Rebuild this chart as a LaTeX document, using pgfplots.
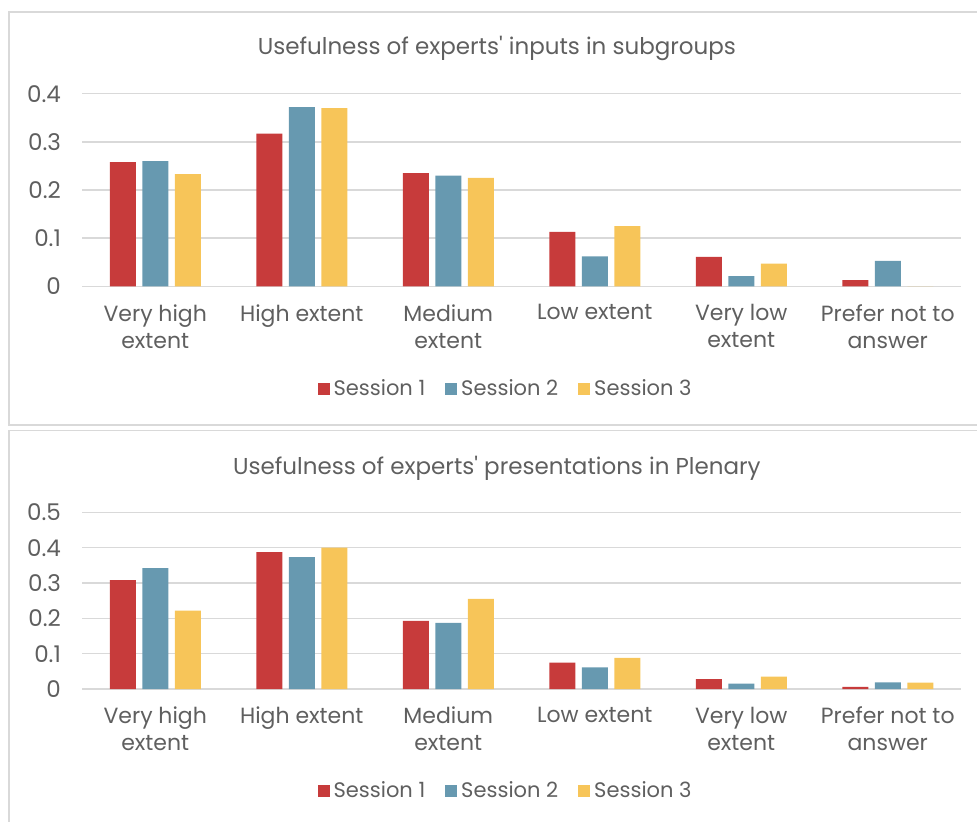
\documentclass[border=0pt]{standalone}
\usepackage{fontspec}
\setmainfont{Poppins}
\usepackage{pgfplots}
\pgfplotsset{compat=1.18}

\definecolor{sone}{RGB}{199,59,59}
\definecolor{stwo}{RGB}{103,153,176}
\definecolor{sthree}{RGB}{247,197,89}
\definecolor{gridgray}{RGB}{217,217,217}
\definecolor{textgray}{RGB}{95,95,95}

\newcommand{\lblfont}{\fontsize{11}{13.5}\selectfont}
\newcommand{\legfont}{\fontsize{10.5}{13.5}\selectfont}
\newcommand{\ttlfont}{\fontsize{11.5}{13.5}\selectfont}

\pgfplotsset{
  excelbars/.style={
    scale only axis, width=439.5pt,
    xmin=-0.5, xmax=5.5, ymin=0,
    xtick={0,...,5},
    xticklabels={Very high\\extent, High extent, Medium\\extent, Low extent, Very low\\extent, Prefer not to\\answer},
    ybar=3.25pt, bar width=13pt,
    axis line style={draw=none}, major tick length=0pt,
    ymajorgrids, grid style={line width=0.75pt, gridgray},
    tick label style={font=\lblfont, text=textgray},
    xticklabel style={align=center, yshift=-5.5pt},
    yticklabel style={font=\ttlfont, xshift=-7pt, /pgf/number format/fixed, /pgf/number format/precision=1},
    /pgf/number format/assume math mode=true,
    legend columns=3,
    legend style={draw=none, fill=none, font=\legfont, text=textgray, anchor=center,
      nodes={inner xsep=2pt},
      /tikz/every even column/.append style={column sep=8pt}},
    legend image code/.code={\fill[##1] (0pt,-3pt) rectangle (6pt,3pt);},
    title style={font=\ttlfont, text=textgray, anchor=center, yshift=0pt},
  }
}

\begin{document}
\begin{tikzpicture}
\path[use as bounding box] (0pt,0pt) rectangle (488.5pt,-411pt);
\draw[gridgray, line width=0.75pt] (4.5pt,-6pt) rectangle (490pt,-212.5pt);
\draw[gridgray, line width=0.75pt] (4.5pt,-215.35pt) rectangle (490pt,-415pt);

\begin{axis}[excelbars,
  at={(41pt,-143.15pt)}, anchor=south west,
  height=96.3pt, ymax=0.4, ytick={0,0.1,0.2,0.3,0.4},
  title={Usefulness of experts\textquotesingle\ inputs in subgroups},
  title style={at={(0.472,1.170)}},
  legend style={at={(0.483,-0.533)}},
]
\addplot[fill=sone, draw=none] coordinates {(0,0.258)(1,0.317)(2,0.235)(3,0.113)(4,0.061)(5,0.013)};
\addplot[fill=stwo, draw=none] coordinates {(0,0.260)(1,0.372)(2,0.230)(3,0.062)(4,0.021)(5,0.053)};
\addplot[fill=sthree, draw=none] coordinates {(0,0.233)(1,0.370)(2,0.225)(3,0.125)(4,0.047)(5,0)};
\legend{Session 1,Session 2,Session 3}
\end{axis}

\begin{axis}[excelbars,
  at={(41pt,-344.5pt)}, anchor=south west,
  height=88.35pt, ymax=0.5, ytick={0,0.1,0.2,0.3,0.4,0.5},
  title={Usefulness of experts\textquotesingle\ presentations in Plenary},
  title style={at={(0.472,1.183)}},
  legend style={at={(0.483,-0.577)}},
]
\addplot[fill=sone, draw=none] coordinates {(0,0.308)(1,0.387)(2,0.193)(3,0.075)(4,0.028)(5,0.006)};
\addplot[fill=stwo, draw=none] coordinates {(0,0.342)(1,0.373)(2,0.187)(3,0.061)(4,0.015)(5,0.019)};
\addplot[fill=sthree, draw=none] coordinates {(0,0.222)(1,0.400)(2,0.255)(3,0.088)(4,0.035)(5,0.018)};
\legend{Session 1,Session 2,Session 3}
\end{axis}
\end{tikzpicture}
\end{document}
